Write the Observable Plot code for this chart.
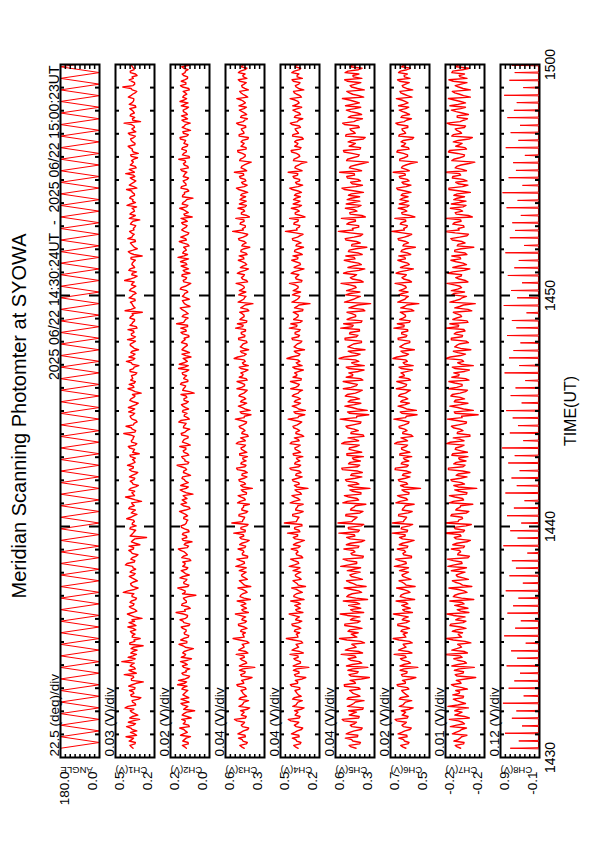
<!DOCTYPE html>
<html><head><meta charset="utf-8">
<script src="https://cdn.jsdelivr.net/npm/d3@7"></script>
<script src="https://cdn.jsdelivr.net/npm/@observablehq/plot@0.6"></script>
<style>
html,body{margin:0;padding:0;background:#fff;overflow:hidden;width:595px;height:842px;}
#land{position:absolute;left:0;top:0;width:842px;height:595px;transform-origin:0 0;transform:translate(0px,842px) rotate(-90deg);font-family:"Liberation Sans",Arial,sans-serif;color:#000;}
#land svg{position:absolute;left:0;}
#title{position:absolute;left:5px;width:842px;top:9px;text-align:center;font-size:20px;line-height:20px;white-space:nowrap;}
</style></head><body><div id="land"><div id="title">Meridian Scanning Photomter at SYOWA</div></div>
<script>
// ---- data (time in seconds after 14:30:00 UT) ----
const dateText = "2025 06/22 14:30:24UT\u00a0\u00a0-\u00a0\u00a02025 06/22 15:00:23UT";
const names = ["ANGLE","CH1(V)","CH2(V)","CH3(V)","CH4(V)","CH5(V)","CH6(V)","CH7(V)","CH8(V)"];
const perDiv = [22.5,0.03,0.02,0.04,0.04,0.04,0.02,0.01,0.12];
const divUnits = ["(deg)/div","(V)/div","(V)/div","(V)/div","(V)/div","(V)/div","(V)/div","(V)/div","(V)/div"];
const axisMax = [180,0.46,0.17,0.60,0.50,0.60,0.66,-0.16,0.86];
const axisMin = [0,0.22,0.01,0.28,0.18,0.28,0.50,-0.24,-0.10];
const timeLabels = [0,600,1200,1800];

const sampleStart = 24, sampleStep = 7.5;

// scan-angle turning points (s) and extremes
const angTurns = [24,39,54,69,84,99,114,129,144,159,174,189,204,219,234,249,264,279,294,309,324,339,354,369,384,399,414,429,444,459,474,489,504,519,534,549,564,579,594,609,624,639,654,669,684,699,714,729,744,759,774,789,804,819,834,849,864,879,894,909,924,939,954,969,984,999,1014,1029,1044,1059,1074,1089,1104,1119,1134,1149,1164,1179,1194,1209,1224,1239,1254,1269,1284,1299,1314,1329,1344,1359,1374,1389,1404,1419,1434,1449,1464,1479,1494,1509,1524,1539,1554,1569,1584,1599,1614,1629,1644,1659,1674,1689,1704,1719,1734,1749,1764,1779,1794,1809];
const angExtremes = [180,0];

// CH8 spike times (s), peaks (V), baseline (V)
const ch8Times = [24,43,63,82,102,121,141,160,180,199,219,238,258,277,297,316,336,355,375,394,414,433,453,472,492,511,531,550,570,589,609,628,648,667,687,706,726,745,765,784,804,823,843,862,882,901,921,940,960,979,999,1018,1038,1057,1077,1096,1116,1135,1155,1174,1194,1213,1233,1252,1272,1291,1311,1330,1350,1369,1389,1408,1428,1447,1467,1486,1506,1525,1545,1564,1584,1603,1623,1642,1662,1681,1701,1720,1740,1759,1779,1798,1818];
const ch8Peaks = [0.62,0.41,0.75,0.33,0.58,0.47,0.80,0.29,0.66,0.52,0.38,0.71,0.45,0.60,0.24,0.77,0.50,0.36,0.69,0.55,0.42,0.73,0.31,0.64,0.48,0.58,0.20,0.79,0.44,0.62,0.35,0.70,0.53,0.27,0.74,0.46,0.59,0.39,0.67,0.51,0.82,0.30,0.63,0.43,0.56,0.72,0.34,0.61,0.49,0.25,0.76,0.40,0.65,0.54,0.37,0.70,0.47,0.58,0.22,0.78,0.45,0.60,0.33,0.68,0.52,0.41,0.74,0.28,0.63,0.50,0.57,0.36,0.71,0.44,0.81,0.32,0.66,0.48,0.55,0.26,0.73,0.42,0.61,0.38,0.69,0.53,0.46,0.77,0.30,0.64,0.51,0.58,0.35];
const ch8Base = -0.075;

// CH1..CH7 in mV: "a" samples every 7.5 s, "b" samples half a step later
const ch1 = [352,371,338,360,395,344,329,366,350,381,312,357,342,369,401,336,355,318,362,347,
374,340,358,289,363,351,332,377,345,360,421,339,353,366,327,349,372,341,308,356,
361,335,384,350,343,297,368,354,339,375,346,362,331,358,412,344,351,367,325,359,
348,370,336,355,389,341,357,322,364,350,377,338,353,269,360,345,371,333,356,349,
366,328,352,379,344,361,337,398,350,342,368,319,357,346,374,335,362,351,386,340,
355,367,314,349,372,338,360,353,345,409,336,363,349,327,358,370,342,356,381,334,
351,365,340,302,359,347,376,338,354,362,329,371,345,357,393,341,352,366,318,355,
369,337,350,361,346,383,332,358,343,372,351,295,364,348,359,339,376,353,342,367,
335,356,404,344,360,331,370,349,357,338,364,347,381,326,353,368,340,359,345,373,
350,336,362,311,355,371,343,358,389,337,352,366,344,360,329,375,348,355,341,397,
358,333,369,350,346,363,320,357,372,341,354,367,338,381,349,343,362,306,356,370,
344,359,335,375,351,348,366,339,357,415,342,361,350,327,368,345,356,373,340,358];
const ch1b = [363,341,376,349,330,368,357,392,337,354,372,323,360,347,383,339,358,304,366,351,
342,379,333,361,348,406,356,338,370,345,359,382,331,353,364,290,372,346,357,340,
368,351,334,377,359,343,387,329,362,350,371,336,358,347,383,321,364,353,341,375,
339,360,352,399,344,366,333,357,378,348,310,362,341,370,352,336,368,357,344,391,
349,363,338,372,355,300,366,343,359,377,336,352,369,341,357,323,374,350,362,345,
338,371,354,343,381,329,363,351,368,340,357,395,346,333,366,352,379,342,359,320,
372,348,356,339,383,351,344,367,357,336,370,349,316,362,353,377,340,358,345,369,
352,386,337,363,349,328,371,354,343,366,358,401,339,355,368,341,360,333,374,350,
362,345,371,327,356,378,342,359,349,365,296,370,352,344,361,337,384,355,363,346,
341,368,353,375,338,360,347,330,366,355,373,343,357,392,348,362,335,369,351,344,
375,339,358,361,324,367,350,356,382,340,363,348,371,335,359,346,407,353,342,366,
350,372,338,360,347,381,355,329,364,352,343,376,358,337,369,349,361,331,374,353];
const ch2 = [105,121,98,113,88,117,109,132,96,111,124,102,115,71,108,119,94,127,106,113,
99,118,141,104,110,92,123,107,116,101,129,84,112,120,97,109,135,103,117,95,
114,106,126,91,119,108,100,147,112,98,122,105,117,66,110,125,99,114,107,131,
93,116,104,120,110,87,124,101,113,138,96,109,118,103,121,94,112,127,105,99,
115,108,133,90,117,104,122,111,78,119,106,128,97,113,120,102,116,109,143,95,
111,124,100,118,107,89,121,113,98,126,104,117,110,136,93,114,102,119,108,125,
97,115,106,73,120,111,129,99,116,104,122,95,112,134,101,118,107,92,123,110,
103,119,114,96,127,108,100,145,112,98,117,105,124,90,113,121,106,115,99,130,
109,87,118,104,122,111,96,126,107,114,139,100,116,109,94,120,105,128,98,113,
117,102,124,110,81,115,107,132,99,119,104,121,112,95,127,106,114,101,118,110,
123,97,113,108,136,94,116,105,120,99,111,129,103,117,88,122,109,114,100,125,
106,118,96,112,131,104,115,109,93,121,107,126,100,116,110,98,124,113,105,119];
const ch2b = [112,97,120,106,129,101,115,93,118,109,85,122,104,116,99,127,110,95,119,107,
123,102,113,137,96,118,105,91,121,111,100,126,108,114,76,119,103,128,97,112,
106,120,94,115,131,101,117,109,89,124,105,113,98,121,110,140,95,116,103,118,
109,126,99,112,120,92,117,107,129,101,114,82,122,105,118,96,125,111,104,116,
100,121,108,94,127,113,102,118,106,130,97,115,109,123,88,117,104,126,99,111,
120,95,114,107,132,102,118,98,124,110,91,116,106,128,100,113,121,96,119,105,
114,103,127,93,117,108,125,99,112,120,104,137,97,115,109,86,123,106,118,101,
125,110,94,119,105,128,100,116,108,122,97,113,130,102,117,93,121,111,104,126,
98,115,107,123,90,118,110,103,129,96,114,120,105,116,99,134,108,112,95,124,
106,119,101,127,111,97,116,104,122,109,78,120,113,100,125,107,118,96,114,103,
128,99,117,110,92,121,105,124,102,115,108,131,97,119,106,113,89,123,110,101,
117,105,126,98,114,120,103,118,95,129,107,112,100,122,109,116,94,125,104,111];
const ch3 = [446,482,421,463,437,498,452,410,471,444,526,430,458,477,402,465,449,489,427,456,
473,438,507,455,419,468,442,485,360,461,434,479,450,416,492,447,463,425,538,452,
437,470,445,494,428,459,481,412,466,451,433,504,448,476,423,462,392,457,486,440,
469,431,455,515,444,478,420,461,449,497,435,467,406,482,453,439,474,427,548,458,
443,488,418,465,452,501,437,471,429,459,380,476,446,490,424,463,441,509,432,468,
455,420,484,447,473,436,496,451,414,466,440,481,458,427,519,445,470,398,462,453,
477,434,490,449,422,468,443,505,431,460,474,415,487,452,438,529,446,465,410,479,
456,428,493,441,471,436,460,502,425,467,448,484,419,457,375,472,444,491,433,462,
450,513,426,469,445,480,411,458,437,495,452,423,474,447,466,430,487,455,418,541,
461,438,476,449,404,470,443,497,429,456,481,435,464,451,510,422,468,440,485,453,
426,472,446,389,478,439,462,500,431,457,473,417,488,448,465,434,492,455,420,469,
442,486,428,460,451,507,436,474,412,463,447,481,425,458,494,440,470,433,456,479];
const ch3b = [468,429,457,493,440,474,418,461,452,505,436,470,447,423,489,455,411,478,443,462,
431,497,450,468,382,475,439,458,486,426,464,445,512,433,471,452,408,483,447,460,
476,424,492,441,466,435,519,454,428,473,448,396,481,459,437,498,444,470,421,463,
451,487,430,475,446,507,418,462,455,441,484,427,469,450,532,438,473,415,461,448,
490,433,466,452,404,479,444,496,428,471,457,436,485,449,465,421,502,440,474,431,
459,483,425,468,446,511,437,476,419,462,453,488,432,470,447,391,480,441,494,426,
464,450,479,435,506,444,469,422,487,456,439,473,413,461,448,499,430,477,452,466,
424,491,443,470,436,517,455,428,482,447,463,409,475,439,496,451,432,468,486,445,
471,419,460,452,503,438,478,426,465,449,488,434,472,401,457,445,493,428,466,454,
437,481,447,515,425,469,452,440,486,430,463,475,418,492,446,458,433,479,450,527,
443,467,421,484,455,438,498,431,473,447,461,412,488,452,470,435,509,444,476,426,
464,449,490,437,471,418,457,483,442,468,430,495,453,439,477,424,462,450,485,436];
const ch4 = [355,391,332,374,347,410,362,318,386,350,436,339,368,385,307,372,356,401,330,364,
381,342,419,359,322,377,348,394,268,369,337,390,357,313,405,351,372,329,452,360,
343,380,352,407,325,366,393,316,375,358,336,416,353,388,321,370,295,363,398,345,
379,333,361,428,350,389,318,367,356,412,338,374,304,395,359,341,385,324,468,364,
348,400,314,373,357,420,340,383,328,366,275,386,351,403,322,371,345,423,335,377,
361,317,396,352,382,338,409,356,310,374,343,392,363,326,437,349,378,296,369,358,
387,336,404,354,319,376,346,418,330,367,384,312,399,357,341,447,350,372,303,389,
362,325,406,344,380,339,368,415,322,373,353,396,316,364,258,381,348,402,335,370,
356,426,324,377,349,391,307,365,340,408,357,321,385,351,373,331,399,360,315,459,
368,341,387,353,299,379,346,411,328,362,393,337,371,355,424,318,376,343,397,358,
323,382,350,284,389,342,369,413,332,363,384,313,401,352,374,336,405,360,317,378,
345,398,326,367,356,421,339,386,309,371,350,394,321,364,407,343,380,334,361,390];
const ch4b = [378,339,367,403,350,384,328,371,362,415,346,380,357,333,399,365,321,388,353,372,
341,407,360,378,292,385,349,368,396,336,374,355,422,343,381,362,318,393,357,370,
386,334,402,351,376,345,429,364,338,383,358,306,391,369,347,408,354,380,331,373,
361,397,340,385,356,417,328,372,365,351,394,337,379,360,442,348,383,325,371,358,
400,343,376,362,314,389,354,406,338,381,367,346,395,359,375,331,412,350,384,341,
369,393,335,378,356,421,347,386,329,372,363,398,342,380,357,301,390,351,404,336,
374,360,389,345,416,354,379,332,397,366,349,383,323,371,358,409,340,387,362,376,
334,401,353,380,346,427,365,338,392,357,373,319,385,349,406,361,342,378,396,355,
381,329,370,362,413,348,388,336,375,359,398,344,382,311,367,355,403,338,376,364,
347,391,357,425,335,379,362,350,396,340,373,385,328,402,356,368,343,389,360,437,
353,377,331,394,365,348,408,341,383,357,371,322,398,362,380,345,419,354,386,336,
374,359,400,347,381,328,367,393,352,378,340,405,363,349,387,334,372,360,395,346];
const ch5 = [432,488,395,467,420,512,446,381,479,428,545,406,461,492,372,470,437,506,399,455,
484,411,528,443,388,474,425,499,335,462,404,497,441,378,519,431,466,393,567,447,
414,481,438,523,397,458,503,369,476,444,402,536,433,495,386,468,349,452,510,419,
482,398,449,557,426,501,376,463,440,531,408,477,361,509,446,415,493,389,580,455,
423,514,374,471,437,540,410,490,392,459,318,496,429,518,384,466,418,548,401,479,
451,371,507,434,486,405,525,442,367,474,413,502,457,391,561,425,484,340,464,445,
497,403,520,436,380,472,421,537,395,460,491,366,512,443,409,571,430,469,358,499,
453,387,522,416,481,404,463,533,383,475,435,506,375,456,312,487,428,516,400,467,
439,554,392,478,427,500,360,457,411,528,447,381,494,431,468,397,513,448,377,576,
462,410,491,437,355,480,424,519,390,453,504,402,470,441,547,379,476,415,508,446,
386,486,433,331,501,414,465,535,394,458,496,372,517,438,473,405,526,449,379,471,
420,511,393,461,442,543,407,485,364,468,436,503,384,457,521,412,482,399,450,498];
const ch5b = [471,402,458,519,417,483,390,465,444,531,409,487,428,377,502,451,366,494,421,468,
398,526,436,481,322,489,414,460,510,385,476,432,553,407,485,446,362,506,425,471,
497,383,524,419,478,401,561,455,393,492,430,337,508,463,411,529,427,486,379,469,
447,503,394,491,426,538,372,473,452,415,511,388,479,441,572,404,495,368,466,437,
516,399,477,448,351,504,423,527,391,482,457,408,509,439,475,380,544,418,493,396,
461,506,385,488,431,549,410,497,374,470,449,514,397,483,427,327,501,420,523,392,
478,441,503,405,536,433,480,376,512,459,412,492,364,467,437,528,398,496,451,474,
387,521,428,485,403,557,455,390,505,434,466,359,490,418,526,452,396,481,509,430,
484,373,462,446,534,406,498,388,476,440,515,411,487,343,465,429,520,393,479,455,
409,507,436,551,384,483,447,417,512,400,471,494,371,524,433,463,395,502,444,566,
426,477,378,509,458,405,530,399,488,437,464,356,513,450,481,412,541,423,495,386,
474,443,518,404,486,369,459,507,419,480,392,525,454,408,497,382,468,441,512,401];
const ch6 = [597,618,584,606,592,629,601,575,613,595,641,588,604,616,567,609,598,624,586,602,
614,590,633,599,579,611,593,621,548,607,587,619,600,572,627,596,608,583,649,601,
591,612,597,630,582,605,620,570,610,599,589,637,596,617,580,608,559,602,625,593,
613,586,603,644,595,622,574,606,598,632,589,611,563,623,600,592,616,583,652,604,
594,626,571,609,599,638,590,618,585,605,537,619,596,628,580,607,593,640,587,612,
602,573,621,597,615,590,631,600,568,610,592,624,604,584,646,595,613,554,607,600,
619,589,627,598,578,611,594,634,586,603,617,570,625,601,591,650,597,608,562,622,
603,581,629,593,614,590,605,632,579,609,599,620,575,602,544,616,596,626,588,607,
598,641,582,613,595,623,566,604,589,630,601,577,617,597,609,586,626,603,573,655,
606,591,616,599,560,612,593,628,584,602,621,588,610,600,635,576,613,592,624,601,
583,615,597,550,622,590,607,631,587,603,617,571,626,598,611,589,629,604,574,612,
594,624,585,606,600,636,590,618,569,608,598,622,580,604,627,593,614,587,601,619];
const ch6b = [610,589,603,626,593,614,580,607,601,634,591,612,598,583,624,604,573,619,594,609,
585,628,599,611,556,615,592,605,621,578,611,596,645,588,613,603,571,625,597,608,
617,582,630,595,612,587,648,602,579,614,598,561,620,606,590,635,596,612,576,609,
600,623,586,615,597,639,574,609,603,592,624,583,611,600,653,590,614,569,607,598,
627,587,612,603,563,621,595,631,584,613,605,590,624,599,611,577,641,593,616,585,
607,622,580,614,596,643,590,617,575,609,602,625,587,612,598,551,620,594,629,582,
611,600,621,589,636,596,613,578,624,606,591,615,567,608,598,633,586,617,603,612,
581,628,596,614,589,646,604,583,622,598,609,564,618,593,630,601,587,612,624,595,
613,574,606,600,637,591,619,583,611,599,626,589,613,558,605,597,629,585,611,603,
593,620,597,642,581,614,602,592,624,586,609,616,576,630,596,607,584,621,599,649,
596,611,577,622,604,590,634,584,615,598,607,565,623,602,613,589,638,595,617,582,
610,598,627,588,614,572,604,621,594,612,583,631,603,591,619,578,608,599,625,587];
const ch7 = [-191,-180,-198,-186,-193,-174,-189,-203,-183,-195,-168,-199,-187,-179,-207,-185,-192,-176,-197,-188,
-181,-194,-172,-190,-201,-184,-196,-178,-219,-186,-199,-177,-190,-205,-173,-193,-185,-200,-162,-189,
-195,-182,-191,-171,-202,-187,-176,-208,-184,-192,-198,-169,-193,-179,-204,-186,-214,-190,-174,-196,
-182,-200,-188,-165,-194,-176,-206,-185,-191,-172,-199,-183,-211,-178,-190,-197,-180,-202,-160,-187,
-194,-173,-208,-184,-191,-168,-197,-179,-203,-188,-224,-177,-193,-171,-204,-186,-195,-166,-200,-182,
-189,-206,-175,-192,-181,-198,-170,-190,-210,-184,-196,-176,-187,-203,-164,-193,-180,-217,-185,-191,
-178,-199,-171,-190,-205,-183,-194,-167,-201,-187,-177,-209,-174,-192,-197,-161,-191,-185,-212,-179,
-188,-202,-172,-195,-182,-198,-186,-169,-204,-183,-191,-176,-206,-189,-221,-180,-194,-173,-199,-185,
-190,-163,-201,-181,-193,-175,-210,-188,-196,-171,-190,-204,-179,-192,-184,-200,-174,-189,-207,-158,
-186,-197,-178,-191,-215,-182,-195,-170,-202,-188,-177,-199,-184,-190,-167,-206,-181,-196,-175,-189,
-203,-180,-192,-220,-177,-198,-185,-168,-200,-189,-176,-208,-173,-193,-183,-199,-170,-190,-205,-184,
-194,-172,-201,-186,-191,-166,-197,-179,-211,-187,-192,-176,-204,-188,-173,-195,-182,-200,-189,-178];
const ch7b = [-184,-197,-177,-190,-204,-181,-193,-170,-199,-186,-209,-179,-194,-187,-165,-201,-183,-196,-175,-189,
-205,-178,-192,-182,-222,-180,-197,-188,-173,-203,-185,-194,-158,-199,-183,-190,-212,-176,-193,-186,
-174,-202,-169,-196,-181,-200,-163,-191,-206,-179,-194,-218,-176,-188,-198,-167,-195,-180,-207,-184,
-190,-172,-203,-178,-193,-164,-209,-186,-189,-197,-175,-204,-182,-192,-156,-199,-178,-213,-186,-195,
-171,-203,-181,-190,-216,-176,-195,-168,-204,-179,-186,-199,-174,-191,-182,-210,-166,-196,-177,-202,
-187,-173,-205,-180,-192,-162,-198,-176,-210,-185,-190,-172,-202,-183,-194,-227,-178,-197,-169,-206,
-180,-190,-174,-201,-166,-194,-179,-208,-173,-188,-199,-180,-217,-185,-193,-170,-201,-176,-191,-183,
-207,-172,-194,-178,-200,-160,-187,-206,-175,-193,-182,-214,-179,-197,-169,-190,-203,-177,-172,-193,
-178,-206,-188,-192,-165,-199,-175,-203,-182,-191,-173,-200,-179,-218,-186,-194,-171,-204,-180,-188,
-198,-175,-192,-161,-207,-180,-190,-196,-172,-202,-184,-177,-211,-167,-195,-186,-204,-174,-191,-157,
-194,-183,-208,-173,-189,-199,-166,-203,-181,-194,-186,-215,-176,-190,-180,-201,-163,-197,-184,-207,
-182,-191,-169,-201,-178,-211,-189,-174,-196,-180,-204,-167,-190,-199,-175,-209,-184,-192,-170,-202];

// ---- build series ----
const toSeries = (a, b) => {
  const out = [];
  a.forEach((mv, i) => {
    out.push({t: sampleStart + i * sampleStep, v: mv / 1000});
    if (i < b.length) out.push({t: sampleStart + (i + 0.5) * sampleStep, v: b[i] / 1000});
  });
  return out;
};
const angleSeries = angTurns.map((t, i) => ({t, v: angExtremes[i % 2]}));
const ch8Series = [];
ch8Times.forEach((t, i) => {
  if (i >= ch8Peaks.length) return;
  ch8Series.push({t: t - 1.5, v: ch8Base}, {t, v: ch8Peaks[i]}, {t: t + 1.5, v: ch8Base});
});
const series = [angleSeries, toSeries(ch1, ch1b), toSeries(ch2, ch2b), toSeries(ch3, ch3b), toSeries(ch4, ch4b),
  toSeries(ch5, ch5b), toSeries(ch6, ch6b), toSeries(ch7, ch7b), ch8Series];

const fmtTime = t => { const m = 14 * 60 + 30 + t / 60; const hh = Math.floor(m / 60), mm = Math.round(m % 60); return `${hh}${String(mm).padStart(2, "0")}`; };
const minorTicks = d3.range(60, 1800, 60).filter(t => t % 600 !== 0);
const majorTicks = [600, 1200];

const land = document.getElementById("land");
const W = 842, ML = 84, MR = 65, PH = 39, MT = 25, MB = 45, FW = W - ML - MR;
names.forEach((name, k) => {
  const top = 60 + 55 * k;
  const mx = axisMax[k], mn = axisMin[k];
  const combs = d3.range(1, 8).map(j => mn + j * (mx - mn) / 8);
  const fmtV = d => d.toFixed(1);
  const tick = {stroke: "#000", strokeWidth: 2};
  const marks = [
    Plot.line(series[k], {x: "t", y: "v", stroke: "#ff0000", strokeWidth: k === 0 || k === 8 ? 1 : 1.4, clip: true}),
    Plot.ruleX(minorTicks, {x: d => d, insetTop: PH - 4, ...tick}),
    Plot.ruleX(minorTicks, {x: d => d, insetBottom: PH - 4, ...tick}),
    Plot.ruleX(majorTicks, {x: d => d, insetTop: PH - 10, ...tick}),
    Plot.ruleX(majorTicks, {x: d => d, insetBottom: PH - 10, ...tick}),
    Plot.ruleY(combs, {y: d => d, insetRight: FW - 4, stroke: "#000", strokeWidth: 1.5}),
    Plot.ruleY(combs, {y: d => d, insetLeft: FW - 4, stroke: "#000", strokeWidth: 1.5}),
    Plot.frame({stroke: "#000", strokeWidth: 2}),
    Plot.axisY({ticks: [mx], tickSize: 0, tickPadding: 14, tickFormat: fmtV, dy: 4, fontSize: 13.5, label: null}),
    Plot.axisY({ticks: [mn], tickSize: 0, tickPadding: 14, tickFormat: fmtV, dy: -7, fontSize: 13.5, label: null}),
    Plot.text([name], {text: d => d, frameAnchor: "top-left", rotate: -90, textAnchor: "end", lineAnchor: "bottom", dx: -9, fontSize: 9.5}),
    Plot.text([`${perDiv[k]} ${divUnits[k]}`], {text: d => d, frameAnchor: "top-left", textAnchor: "start", lineAnchor: "bottom", dx: 1, dy: -2, fontSize: 13.5})
  ];
  if (k === 0) {
    marks.push(Plot.text([dateText], {text: d => d, frameAnchor: "top-right", textAnchor: "end", lineAnchor: "bottom", dx: -1, dy: -2, fontSize: 14}));
  }
  if (k === names.length - 1) {
    marks.push(Plot.axisX({anchor: "bottom", ticks: timeLabels, tickFormat: fmtTime, tickSize: 0, tickPadding: 6, fontSize: 14, label: null}));
    marks.push(Plot.text(["TIME(UT)"], {text: d => d, frameAnchor: "bottom", lineAnchor: "middle", dy: 31, fontSize: 16}));
  }
  const svg = Plot.plot({
    width: W, height: PH + MT + MB,
    marginLeft: ML, marginRight: MR, marginTop: MT, marginBottom: MB,
    x: {domain: [0, 1800], axis: null},
    y: {domain: [mn, mx], axis: null},
    style: {background: "transparent", overflow: "visible", fontFamily: "'Liberation Sans', Arial, sans-serif", fontSize: "13.5px", maxWidth: "none"},
    marks
  });
  svg.style.position = "absolute";
  svg.style.left = "0px";
  svg.style.top = (top - MT) + "px";
  land.appendChild(svg);
});
</script>
</body></html>
